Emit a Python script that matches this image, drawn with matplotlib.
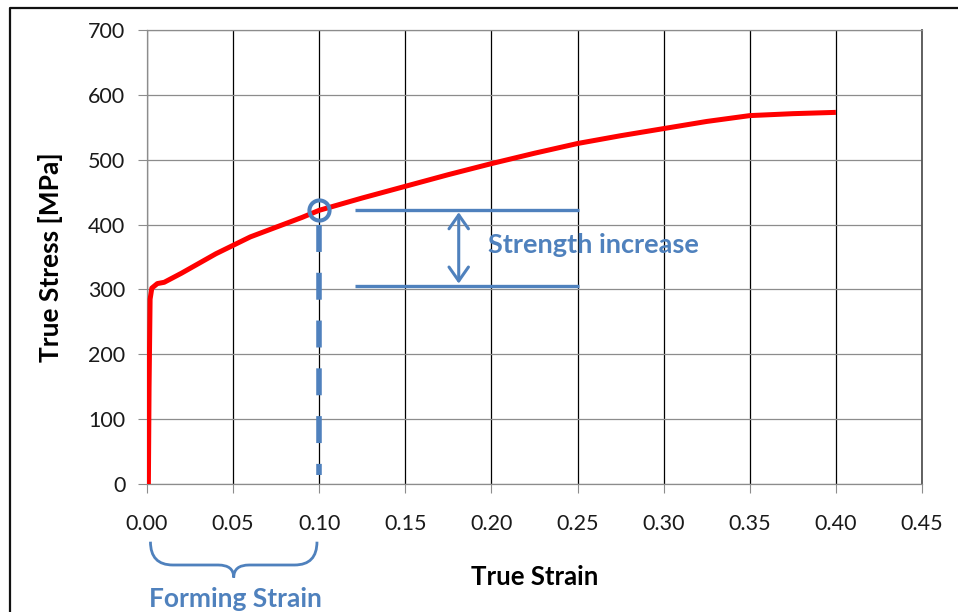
import matplotlib
matplotlib.use("Agg")
import matplotlib.pyplot as plt
from matplotlib.path import Path
from matplotlib.patches import PathPatch
from matplotlib.lines import Line2D
import matplotlib.transforms as mtransforms

# ---- data ----
strain = [0.0008, 0.0012, 0.0018, 0.0028, 0.006, 0.010, 0.02, 0.03, 0.04, 0.05,
          0.06, 0.07, 0.08, 0.09, 0.10, 0.125, 0.15, 0.175, 0.20, 0.225,
          0.25, 0.275, 0.30, 0.325, 0.35, 0.375, 0.40]
stress = [0, 150, 285, 302, 309, 311, 325, 340, 355, 368,
          381, 391, 401, 411, 422, 441, 459, 477, 494, 510,
          525, 537, 548, 559, 568, 571, 573]

x_ticks = [0.00, 0.05, 0.10, 0.15, 0.20, 0.25, 0.30, 0.35, 0.40, 0.45]
x_tick_labels = ["0.00", "0.05", "0.10", "0.15", "0.20", "0.25", "0.30", "0.35", "0.40", "0.45"]
y_ticks = [0, 100, 200, 300, 400, 500, 600, 700]
y_tick_labels = ["0", "100", "200", "300", "400", "500", "600", "700"]

forming_strain = 0.10
stress_at_forming = 422
initial_yield = 305
increase_span = [0.121, 0.251]   # extent of the two horizontal reference lines
arrow_x = 0.181
dash_range = [399, 14]

x_label = "True Strain"
y_label = "True Stress [MPa]"
increase_label = "Strength increase"
forming_label = "Forming Strain"

BLUE = "#4F81BD"
RED = "#FF0000"
FONT = ["Lato", "DejaVu Sans"]

plt.rcParams["font.family"] = FONT

W, H = 958, 612
fig = plt.figure(figsize=(W / 100, H / 100), dpi=100)
ax = fig.add_axes([147 / W, 1 - 484 / H, (922 - 147) / W, (484 - 30) / H])

ax.set_xlim(0, 0.45)
ax.set_ylim(0, 700)
ax.set_xticks(x_ticks)
ax.set_xticklabels(x_tick_labels)
ax.set_yticks(y_ticks)
ax.set_yticklabels(y_tick_labels)

# grid
ax.grid(axis="x", color="#000000", linewidth=0.9, zorder=0)
ax.grid(axis="y", color="#8c8c8c", linewidth=0.9, zorder=0)
ax.set_axisbelow(True)
for s in ["left", "bottom", "top"]:
    ax.spines[s].set_color("#8c8c8c")
    ax.spines[s].set_linewidth(0.9)
ax.spines["right"].set_color("#555555")
ax.spines["right"].set_linewidth(1.3)

ax.tick_params(axis="x", length=6.5, width=0.8, color="#8c8c8c", pad=15,
               labelsize=15.5, labelcolor="#1a1a1a")
ax.tick_params(axis="y", length=6.5, width=0.8, color="#8c8c8c", pad=9,
               labelsize=15.5, labelcolor="#1a1a1a")

# curve
ax.plot(strain, stress, color=RED, linewidth=3.6, solid_capstyle="butt",
        solid_joinstyle="round", zorder=3)

# forming strain marker and dashed line
ax.plot([forming_strain, forming_strain], dash_range, color=BLUE, linewidth=4,
        dashes=(4.85, 3.75), dash_capstyle="butt", zorder=4)
ax.plot([forming_strain], [stress_at_forming], marker="o", markersize=14.5,
        markerfacecolor="none", markeredgecolor=BLUE, markeredgewidth=2.9, zorder=5)

# strength increase lines
ax.plot(increase_span, [stress_at_forming, stress_at_forming], color=BLUE,
        linewidth=2.4, solid_capstyle="butt", zorder=4)
ax.plot(increase_span, [initial_yield, initial_yield], color=BLUE,
        linewidth=2.4, solid_capstyle="butt", zorder=4)
ax.annotate("", xy=(arrow_x, stress_at_forming - 3), xytext=(arrow_x, initial_yield + 4),
            arrowprops=dict(arrowstyle="<->,head_length=0.5,head_width=0.35",
                            color=BLUE, linewidth=2.2, shrinkA=0, shrinkB=0,
                            mutation_scale=20),
            zorder=4)
ax.text(0.198, 356, increase_label, color=BLUE, fontsize=19.5, fontweight="bold",
        ha="left", va="baseline", zorder=5)

# brace below the x axis (x in data, y in figure coords)
trans = mtransforms.blended_transform_factory(ax.transData, fig.transFigure)
x0, x1 = 0.002, 0.0987
xc = (x0 + x1) / 2
ytop, ymid, ytip = 1 - 541.7 / H, 1 - 565 / H, 1 - 577.5 / H
r1, r2 = 0.013, 0.009
verts = [(x0, ytop), (x0, ymid), (x0 + r1, ymid),
         (xc - r2, ymid), (xc, ymid), (xc, ytip),
         (xc, ymid), (xc + r2, ymid),
         (x1 - r1, ymid), (x1, ymid), (x1, ytop)]
codes = [Path.MOVETO, Path.CURVE3, Path.CURVE3,
         Path.LINETO, Path.CURVE3, Path.CURVE3,
         Path.CURVE3, Path.CURVE3,
         Path.LINETO, Path.CURVE3, Path.CURVE3]
brace = PathPatch(Path(verts, codes), transform=trans, facecolor="none",
                  edgecolor=BLUE, linewidth=2.0, clip_on=False)
fig.add_artist(brace)

# labels
fig.text(235 / W, 1 - 607 / H, forming_label, color=BLUE, fontsize=19,
         fontweight="bold", ha="center", va="baseline")
fig.text(534.5 / W, 1 - 585 / H, x_label, color="#000000", fontsize=18.5,
         fontweight="bold", ha="center", va="baseline")
fig.text(51 / W, 1 - 257 / H, y_label, color="#000000", fontsize=19,
         fontweight="bold", ha="center", va="center", rotation=90)

# outer border (left and top)
fig.add_artist(Line2D([10 / W, 10 / W, 1.0], [0.0, 1 - 8 / H, 1 - 8 / H],
                      transform=fig.transFigure, color="#111111", linewidth=1.6))

fig.savefig("out.png", dpi=100)
